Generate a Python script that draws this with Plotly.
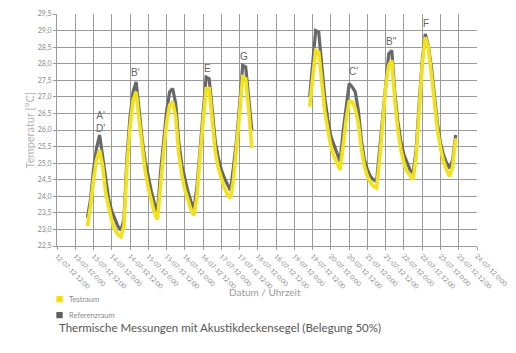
import pandas as pd
import plotly.graph_objects as go

# Segment start times (2-hour measurement interval)
seg1_start = "2012-07-13 08:00"
seg2_start = "2012-07-19 10:00"

ref_seg1 = [23.35, 23.9, 24.8, 25.45, 25.85, 25.2, 24.4, 23.9, 23.55, 23.3, 23.1, 22.97,
            23.3, 25.2, 26.4, 27.15, 27.45, 26.6, 25.7, 25.05, 24.55, 24.15, 23.8, 23.5,
            24.7, 25.6, 26.55, 27.15, 27.25, 26.8, 25.65, 24.95, 24.5, 24.15, 23.85, 23.62,
            24.3, 25.5, 26.7, 27.6, 27.55, 26.5, 25.65, 25.15, 24.8, 24.55, 24.35, 24.17,
            24.9, 25.7, 26.75, 27.95, 27.9, 27.0, 26.0]
test_seg1 = [23.1, 23.7, 24.5, 25.1, 25.4, 24.9, 24.1, 23.6, 23.25, 23.0, 22.85, 22.78,
             23.1, 24.9, 26.1, 26.9, 27.15, 26.3, 25.4, 24.75, 24.25, 23.85, 23.5, 23.3,
             24.4, 25.3, 26.2, 26.75, 26.85, 26.4, 25.3, 24.65, 24.2, 23.85, 23.6, 23.42,
             24.0, 25.2, 26.4, 27.25, 27.25, 26.2, 25.35, 24.85, 24.5, 24.25, 24.05, 23.95,
             24.5, 25.4, 26.5, 27.6, 27.55, 26.6, 25.45]
ref_seg2 = [27.0, 28.0, 29.0, 28.95, 28.05, 26.95, 26.3, 25.8, 25.55, 25.3, 25.05,
            25.95, 26.75, 27.4, 27.3, 27.15, 26.6, 25.7, 25.1, 24.8, 24.6, 24.5, 24.45,
            25.4, 26.6, 27.55, 28.3, 28.4, 27.1, 26.25, 25.65, 25.25, 25.0, 24.8, 24.7,
            25.4, 26.8, 28.1, 28.9, 28.55, 27.9, 27.0, 26.2, 25.6, 25.25, 25.0, 24.85, 25.1, 25.85]
test_seg2 = [26.7, 27.6, 28.4, 28.35, 27.4, 26.55, 26.0, 25.5, 25.2, 25.0, 24.8,
             25.5, 26.3, 26.85, 26.85, 26.65, 26.2, 25.45, 24.9, 24.6, 24.42, 24.3, 24.25,
             25.1, 26.3, 27.3, 27.95, 28.1, 26.9, 26.0, 25.4, 25.0, 24.75, 24.6, 24.5,
             25.2, 26.6, 27.95, 28.8, 28.5, 27.7, 26.8, 26.0, 25.45, 25.05, 24.8, 24.6, 24.9, 25.75]

tick_vals = ["2012-07-12 12:00", "2012-07-13 00:00", "2012-07-13 12:00", "2012-07-14 00:00",
             "2012-07-14 12:00", "2012-07-15 00:00", "2012-07-15 12:00", "2012-07-16 00:00",
             "2012-07-16 12:00", "2012-07-17 00:00", "2012-07-17 12:00", "2012-07-18 00:00",
             "2012-07-18 12:00", "2012-07-19 00:00", "2012-07-19 12:00", "2012-07-20 00:00",
             "2012-07-20 12:00", "2012-07-21 00:00", "2012-07-21 12:00", "2012-07-22 00:00",
             "2012-07-22 12:00", "2012-07-23 00:00", "2012-07-23 12:00", "2012-07-24 00:00"]
tick_text = ["12-07-12 12:00", "13-07-12 0:00", "13-07-12 12:00", "14-07-12 0:00",
             "14-07-12 12:00", "15-07-12 0:00", "15-07-12 12:00", "16-07-12 0:00",
             "16-07-12 12:00", "17-07-12 0:00", "17-07-12 12:00", "18-07-12 0:00",
             "18-07-12 12:00", "19-07-12 0:00", "19-07-12 12:00", "20-07-12 0:00",
             "20-07-12 12:00", "21-07-12 0:00", "21-07-12 12:00", "22-07-12 0:00",
             "22-07-12 12:00", "23-07-12 0:00", "23-07-12 12:00", "24-07-12 0:00"]
y_ticks = [22.5, 23.0, 23.5, 24.0, 24.5, 25.0, 25.5, 26.0, 26.5, 27.0, 27.5, 28.0, 28.5, 29.0, 29.5]

peak_labels = ["A'<br>D'", "B'", "E", "G", "C'", "B''", "F"]
peak_times = ["2012-07-13 16:20", "2012-07-14 15:40", "2012-07-16 15:00", "2012-07-17 15:00",
              "2012-07-20 14:50", "2012-07-21 15:30", "2012-07-22 14:40"]
peak_values = [26.25, 27.72, 27.85, 28.22, 27.77, 28.67, 29.22]

legend_names = ["Testraum", "Referenzraum"]
legend_colors = ["#f7dc16", "#5f5f5f"]

t1 = list(pd.date_range(seg1_start, periods=len(ref_seg1), freq="2h"))
t2 = list(pd.date_range(seg2_start, periods=len(ref_seg2), freq="2h"))
times = t1 + [None] + t2
ref = ref_seg1 + [None] + ref_seg2
test = test_seg1 + [None] + test_seg2

GRAY = "#686868"
YELLOW = "#f2e21e"
FONT = "Lato"

fig = go.Figure()
fig.add_trace(go.Scatter(x=times, y=ref, mode="lines", line=dict(color=GRAY, width=3.2),
                         name="Referenzraum", showlegend=False, connectgaps=False))
fig.add_trace(go.Scatter(x=times, y=test, mode="lines", line=dict(color=YELLOW, width=3.6),
                         name="Testraum", showlegend=False, connectgaps=False))

for txt, t, v in zip(peak_labels, peak_times, peak_values):
    fig.add_annotation(x=t, y=v, text=txt, showarrow=False,
                       font=dict(family="Liberation Sans", size=10, color="#666666"))

# manual legend (paper coords; plot height 232.5 px, width 420 px)
leg_y = [-0.2290, -0.2978]
for name, col, yc in zip(legend_names, legend_colors, leg_y):
    fig.add_shape(type="rect", xref="paper", yref="paper",
                  x0=-0.0015, x1=0.0135, y0=yc - 0.0135, y1=yc + 0.0135,
                  fillcolor=col, line=dict(width=0))
    fig.add_annotation(xref="paper", yref="paper", x=0.0245, xanchor="left", y=yc,
                       yanchor="middle", text=name, showarrow=False,
                       font=dict(family=FONT, size=7.5, color="#8a8a8a"))

fig.add_annotation(xref="paper", yref="paper", x=-0.086, y=0.5, text="Temperatur [°C]",
                   textangle=-90, showarrow=False,
                   font=dict(family=FONT, size=11, color="#b3b3b3"))
fig.add_annotation(xref="paper", yref="paper", x=0.495, y=-0.232, text="Datum / Uhrzeit",
                   showarrow=False, font=dict(family=FONT, size=10, color="#9a9a9a"))
fig.add_annotation(xref="paper", yref="paper", x=0.0, xanchor="left", y=-0.388,
                   text="Thermische Messungen mit Akustikdeckensegel (Belegung 50%)",
                   showarrow=False, font=dict(family=FONT, size=11.5, color="#555555"))

fig.update_layout(
    width=516, height=353,
    margin=dict(l=57, r=39, t=14, b=106.5),
    paper_bgcolor="white", plot_bgcolor="white",
    separators=",.",
    showlegend=False,
    font=dict(family=FONT, color="#888888", size=8),
    xaxis=dict(type="date", range=["2012-07-12 12:00", "2012-07-24 00:00"],
               tickmode="array", tickvals=tick_vals, ticktext=tick_text, tickangle=45,
               tickfont=dict(size=6.5, color="#888888"), automargin=False,
               showgrid=True, gridcolor="#9a9a9a", gridwidth=0.8,
               ticks="outside", ticklen=3, tickcolor="#9a9a9a",
               showline=True, linecolor="#9a9a9a", linewidth=1, zeroline=False),
    yaxis=dict(range=[22.5, 29.5], tickmode="array", tickvals=y_ticks, tickformat=".1f",
               tickfont=dict(size=7, color="#888888"), automargin=False,
               showgrid=True, gridcolor="#9a9a9a", gridwidth=0.8,
               ticks="outside", ticklen=3, tickcolor="#9a9a9a",
               showline=True, linecolor="#9a9a9a", linewidth=1, zeroline=False),
)

fig.write_html("out.html")
